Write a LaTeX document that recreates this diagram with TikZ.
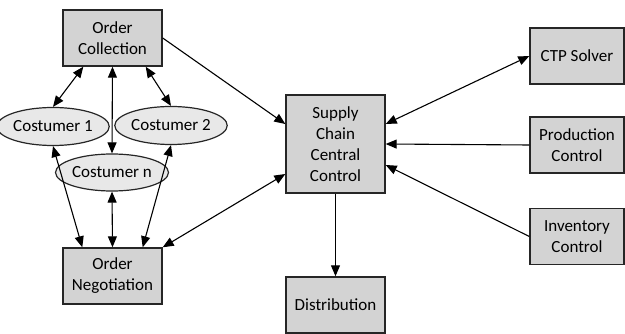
\documentclass[tikz,border=0pt]{standalone}
\usepackage{fontspec}
\setmainfont{Carlito}
\usepackage{tikz}
\usetikzlibrary{positioning, arrows.meta, shapes}
\definecolor{boxgray}{RGB}{211,211,211}
\definecolor{ovalgray}{RGB}{232,232,232}
\tikzstyle{unit} = [rectangle, minimum width=99pt, minimum height=56pt, inner sep=2pt, align=center, draw=black!85, line width=1.4pt, fill=boxgray, font=\fontsize{17}{21}\selectfont]
\tikzstyle{customer} = [ellipse, minimum width=88pt, minimum height=38pt, inner sep=0pt, draw=black!85, line width=1.2pt, fill=ovalgray, font=\fontsize{17}{21}\selectfont]
\tikzstyle{arrow} = [line width=1.1pt, -{Triangle[length=11pt, width=9pt]}]
\tikzstyle{twoway} = [line width=1.1pt, {Triangle[length=11pt, width=9pt]}-{Triangle[length=11pt, width=9pt]}]

\begin{document}
\begin{tikzpicture}[x=1pt, y=-1pt]
    \useasboundingbox (0,0) rectangle (625,334);

        % Nodes
        \node (collect) [unit] at (112.5,38) {Order\\Collection};
        \node (cust1) [customer] at (53,126.5) {Costumer 1};
        \node (cust2) [customer] at (171,125.5) {Costumer 2};
        \node (custn) [customer, minimum height=37pt] at (112,172.5) {Costumer n};
        \node (negot) [unit] at (112.5,276) {Order\\Negotiation};
        \node (central) [unit, minimum height=98pt] at (335.5,144) {Supply\\Chain\\Central\\Control};
        \node (distrib) [unit] at (335.5,305) {Distribution};
        \node (ctp) [unit, minimum width=94pt] at (577,56) {CTP Solver};
        \node (prod) [unit, minimum width=94pt] at (577,145) {Production\\Control};
        \node (inv) [unit, minimum width=94pt] at (577,236.5) {Inventory\\Control};

        % Arrows
        \draw [twoway] ([xshift=21pt]collect.south west) -- (cust1.north);
        \draw [twoway] (collect.south) -- (custn.north);
        \draw [twoway] ([xshift=-17pt]collect.south east) -- (cust2.north);
        \draw [twoway] (cust1.south) -- ([xshift=20pt]negot.north west);
        \draw [twoway] (custn.south) -- (negot.north);
        \draw [twoway] (cust2.south) -- ([xshift=-20pt]negot.north east);
        \draw [arrow] (collect.east) -- ([yshift=20pt]central.west);
        \draw [twoway] (negot.north east) -- ([yshift=-30pt]central.west);
        \draw [twoway] ([yshift=20pt]central.east) -- (ctp.west);
        \draw [arrow] (prod.west) -- (central.east);
        \draw [arrow] (inv.west) -- ([yshift=-21pt]central.east);
        \draw [arrow] (central.south) -- (distrib.north);

    \end{tikzpicture}
\end{document}
